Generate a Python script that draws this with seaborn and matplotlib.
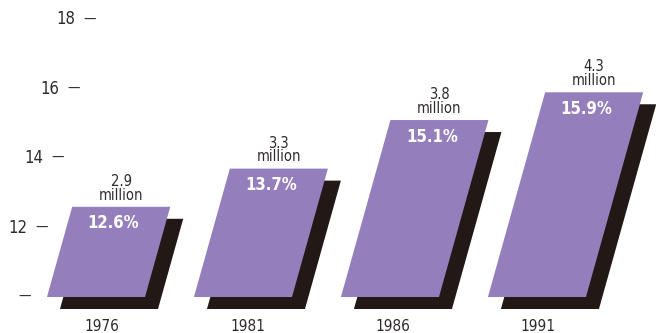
import matplotlib
matplotlib.use("Agg")
import matplotlib.pyplot as plt
import matplotlib.transforms as mtransforms
import numpy as np
import pandas as pd
import seaborn as sns

years = ["1976", "1981", "1986", "1991"]
share_pct = [12.6, 13.7, 15.1, 15.9]
people_millions = [2.9, 3.3, 3.8, 4.3]
y_ticks = [10, 12, 14, 16, 18]
y_tick_labels = ["", "12", "14", "16", "18"]

BASE = 10.0
SLANT = 0.066          # horizontal lean (category units per percentage point)
TICK_SLANT = 0.055
PURPLE = "#947ebb"
SHADOW = "#221816"
INK = "#2e2a2a"

sns.set_theme(style="white")
plt.rcParams["font.family"] = ["DejaVu Sans"]
plt.rcParams["font.stretch"] = "condensed"

df = pd.DataFrame({"year": years, "share": share_pct})

fig = plt.figure(figsize=(6.56, 3.33), dpi=100)
ax = fig.add_axes([0, 0, 1, 1])

# shadow bars first, then the purple bars on top
sns.barplot(data=df, x="year", y="share", color=SHADOW, saturation=1,
            width=0.667, ax=ax, zorder=1)
n_shadow = len(ax.patches)
sns.barplot(data=df, x="year", y="share", color=PURPLE, saturation=1,
            width=0.667, ax=ax, zorder=2)

ax.set_xlim(-0.653, 3.810)
ax.set_ylim(8.963, 18.559)
ax.axis("off")

skew = mtransforms.Affine2D(np.array([[1.0, SLANT, -SLANT * BASE],
                                      [0.0, 1.0, 0.0],
                                      [0.0, 0.0, 1.0]]))
drop = mtransforms.ScaledTranslation(13 / 100, -12 / 100, fig.dpi_scale_trans)

for i, p in enumerate(ax.patches):
    top = p.get_y() + p.get_height()
    p.set_y(BASE)
    p.set_height(top - BASE)
    p.set_linewidth(0)
    p.set_clip_on(False)
    if i < n_shadow:
        p.set_transform(skew + ax.transData + drop)
    else:
        p.set_transform(skew + ax.transData)

for i, (yr, v, m) in enumerate(zip(years, share_pct, people_millions)):
    top_x = i + SLANT * (v - BASE)
    ax.text(top_x, v + 0.12, f"{m}\nmillion", ha="center", va="bottom",
            fontsize=10.5, color=INK, linespacing=0.9)
    d = 0.48
    ax.text(i + SLANT * (v - BASE - d) - 0.02, v - d, f"{v}%", ha="center",
            va="center", fontsize=12, fontweight="bold", color="white")
    ax.text(i + 0.03 + 0.01 * (1 - i), 9.16, yr, ha="center", va="center",
            fontsize=11, color=INK)

# slanted value scale on the left
for t, lab in zip(y_ticks, y_tick_labels):
    dash_end = -0.44 + TICK_SLANT * (t - BASE)
    ax.text(dash_end, t, "\u2014", ha="right", va="center", fontsize=10,
            color=INK)
    if lab:
        ax.text(dash_end - 0.14, t, lab, ha="right", va="center",
                fontsize=12, color=INK)

fig.savefig("out.png", dpi=100)
